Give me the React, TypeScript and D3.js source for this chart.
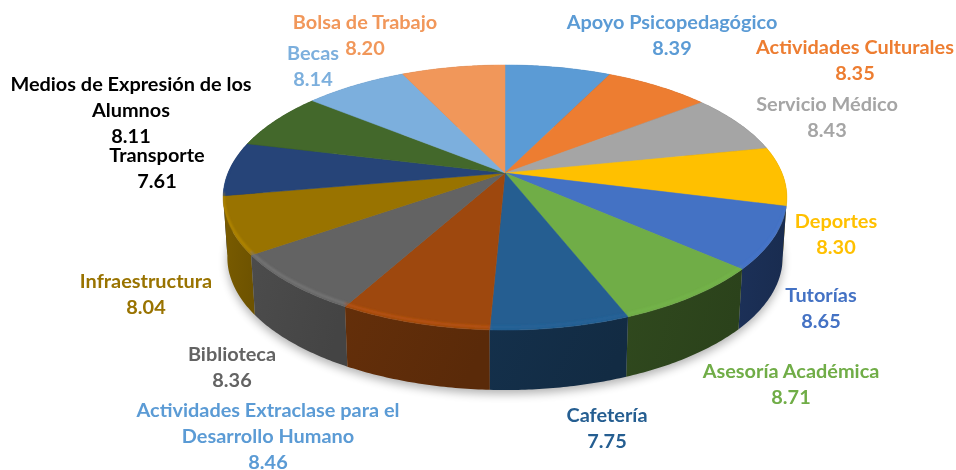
import React from "react";
import * as d3 from "d3";

const categories = ["Apoyo Psicopedagógico", "Actividades Culturales", "Servicio Médico", "Deportes", "Tutorías", "Asesoría Académica", "Cafetería", "Actividades Extraclase para el Desarrollo Humano", "Biblioteca", "Infraestructura", "Transporte", "Medios de Expresión de los Alumnos", "Becas", "Bolsa de Trabajo"];
const values = [8.39, 8.35, 8.43, 8.3, 8.65, 8.71, 7.75, 8.46, 8.36, 8.04, 7.61, 8.11, 8.14, 8.2];
const sliceColors = ["#5B9BD5", "#ED7D31", "#A5A5A5", "#FFC000", "#4472C4", "#70AD47", "#255E91", "#9E480E", "#636363", "#997300", "#264478", "#43682B", "#7CAFDD", "#F1975A"];
const wallColors = ["#3a6a96", "#a85820", "#707070", "#b08500", "#1c3159", "#30491e", "#14304b", "#642f0a", "#4c4c4c", "#7a5c00", "#1b2e50", "#2c4419", "#4d7aa5", "#aa6a3c"];
const rimOpacity = [0, 0, 0, 0, 0.1, 0.15, 0.2, 0.6, 0.7, 0.6, 0.3, 0, 0, 0];
const labelColors = ["#5B9BD5", "#ED7D31", "#A5A5A5", "#FFC000", "#4472C4", "#70AD47", "#255E91", "#5B9BD5", "#636363", "#997300", "#000000", "#000000", "#7CAFDD", "#F1975A"];
const labelLines = [["Apoyo Psicopedagógico"], ["Actividades Culturales"], ["Servicio Médico"], ["Deportes"], ["Tutorías"], ["Asesoría Académica"], ["Cafetería"], ["Actividades Extraclase para el", "Desarrollo Humano"], ["Biblioteca"], ["Infraestructura"], ["Transporte"], ["Medios de Expresión de los", "Alumnos"], ["Becas"], ["Bolsa de Trabajo"]];
const labelCenterX = [672, 855, 827, 836, 821, 791, 607, 268, 232, 146, 157, 131, 313, 365];
const labelTopY = [22, 47, 104, 221, 295, 371, 415, 410, 354, 281, 155, 84, 53, 22];

const W = 956, H = 470;
const apexX = 505, apexY = 173, kx = 277, ky = 128, persp = 0.185, depth = 60, bottomScale = 0.985;
const lineH = 26;

function project(angle: number, r = 1): [number, number] {
  const u = r * Math.sin(angle), v = -r * Math.cos(angle);
  const d = 1 - persp * v;
  return [apexX + (kx * u) / d, apexY + (ky * v) / d];
}
const projectBottom = (angle: number): [number, number] => {
  const [x, y] = project(angle);
  return [apexX + (x - apexX) * bottomScale, y + depth];
};
const sample = (a0: number, a1: number) => d3.range(0, 41).map((i) => a0 + ((a1 - a0) * i) / 40);
const line = d3.line<[number, number]>();
const arcs = d3.pie<number>().sort(null)(values);
const frontness = (a: (typeof arcs)[number]) => -Math.cos((a.startAngle + a.endAngle) / 2);
const wallOrder = arcs.map((a, i) => ({ a, i })).sort((p, q) => frontness(p.a) - frontness(q.a));
const outline = line(d3.range(0, 241).map((i) => project((i / 240) * 2 * Math.PI)))! + "Z";
const bottomOutline = line(d3.range(0, 241).map((i) => projectBottom((i / 240) * 2 * Math.PI)))! + "Z";

export default function App() {
  return (
    <svg width={W} height={H} viewBox={`0 0 ${W} ${H}`} style={{ position: "absolute", left: 0, top: 0, display: "block", background: "#fff" }} fontFamily="Lato, sans-serif" fontWeight={700} fontSize={19.9}>
      <defs>
        <filter id="shadow" x="-10%" y="-10%" width="120%" height="130%"><feGaussianBlur stdDeviation="5" /></filter>
        <filter id="soft" x="-5%" y="-5%" width="110%" height="110%"><feGaussianBlur stdDeviation="1.3" /></filter>
        <clipPath id="topClip"><path d={outline} /></clipPath>
        {wallColors.map((c, i) => (
          <linearGradient key={i} id={`wall${i}`} x1="0" x2="1" y1="0" y2="0.25">
            <stop offset="0" stopColor={c} />
            <stop offset="1" stopColor={d3.color(c)!.darker(0.3).formatHex()} />
          </linearGradient>
        ))}
      </defs>
      <path d={bottomOutline} transform="translate(0,4)" fill="#000" opacity={0.3} filter="url(#shadow)" />
      {wallOrder.map(({ a, i }) => {
        const s = sample(a.startAngle, a.endAngle);
        const top = s.map((t) => project(t));
        const bot = s.slice().reverse().map((t) => projectBottom(t));
        return <path key={i} d={line(top.concat(bot))! + "Z"} fill={`url(#wall${i})`} />;
      })}
      {arcs.map((a, i) => {
        const pts: [number, number][] = [[apexX, apexY], ...sample(a.startAngle, a.endAngle).map((t) => project(t))];
        return <path key={i} d={line(pts)! + "Z"} fill={sliceColors[i]} stroke={sliceColors[i]} strokeWidth={0.5} />;
      })}
      <g clipPath="url(#topClip)">
        <g filter="url(#soft)" fill="none">
          {arcs.map((a, i) => {
            const s = sample(a.startAngle, a.endAngle).filter((t) => -Math.cos(t) > -0.05);
            if (s.length < 2 || rimOpacity[i] === 0) return null;
            const c = d3.color(sliceColors[i])!.brighter(0.7).formatHex();
            return <path key={i} d={line(s.map((t) => { const [x, y] = project(t); return [x, y - 3] as [number, number]; }))!} stroke={c} strokeWidth={2.4} opacity={rimOpacity[i]} />;
          })}
        </g>
      </g>
      {categories.map((name, i) => {
        const lines = labelLines[i];
        return (
          <text key={name} x={labelCenterX[i]} fill={labelColors[i]} textAnchor="middle">
            {lines.map((l, j) => (
              <tspan key={j} x={labelCenterX[i]} y={labelTopY[i] + j * lineH + 7}>{l}</tspan>
            ))}
            <tspan x={labelCenterX[i]} y={labelTopY[i] + lines.length * lineH + 7}>{d3.format(".2f")(values[i])}</tspan>
          </text>
        );
      })}
    </svg>
  );
}
